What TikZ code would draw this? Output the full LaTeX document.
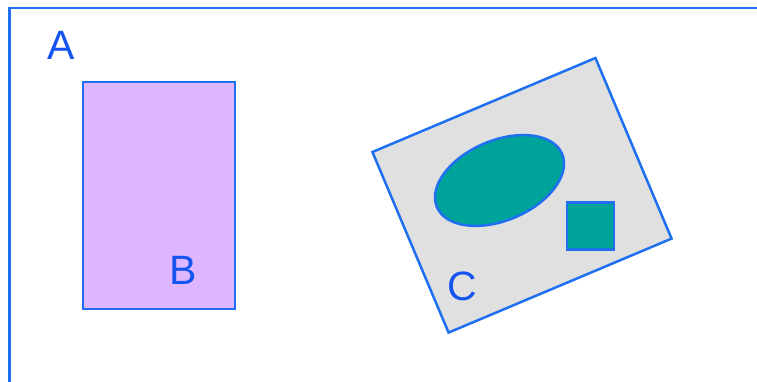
\documentclass[tikz,border=0pt]{standalone}
\usepackage{fontspec}
\setmainfont{Liberation Sans}
\usetikzlibrary{shapes.geometric}
\definecolor{edgeblue}{RGB}{30,112,240}
\definecolor{textblue}{RGB}{22,84,240}
\definecolor{lilac}{RGB}{221,182,255}
\definecolor{panelgray}{RGB}{224,224,224}
\definecolor{teal}{RGB}{0,163,154}
\tikzset{
  lbl/.style={text=textblue, font=\fontsize{41}{48}\selectfont, inner sep=0pt},
  shp/.style={draw=edgeblue, line width=2.5pt, inner sep=0pt},
}
\begin{document}
\begin{tikzpicture}[x=1pt,y=-1pt]
\useasboundingbox (0,0) rectangle (757,382);
\clip (0,0) rectangle (757,382);
\node[shp, rectangle, anchor=north west, minimum width=792pt, minimum height=420pt] (A) at (8,7) {};
\node[lbl] (Alab) at (61,45) {A};
\node[shp, rectangle, fill=lilac, minimum width=152pt, minimum height=227pt] (B) at (159,195.5) {};
\node[lbl] (Blab) at (183,270) {B};
\node[shp, rectangle, fill=panelgray, minimum width=242pt, minimum height=196pt, rotate=22.86] (C) at (522,195.3) {};
\node[shp, ellipse, fill=teal, minimum width=136pt, minimum height=80pt, rotate=23] (E) at (499.5,180.5) {};
\node[shp, rectangle, fill=teal, minimum width=47pt, minimum height=47pt] (S) at (590.5,225.8) {};
\node[lbl] (Clab) at (462,286) {C};
\end{tikzpicture}
\end{document}
